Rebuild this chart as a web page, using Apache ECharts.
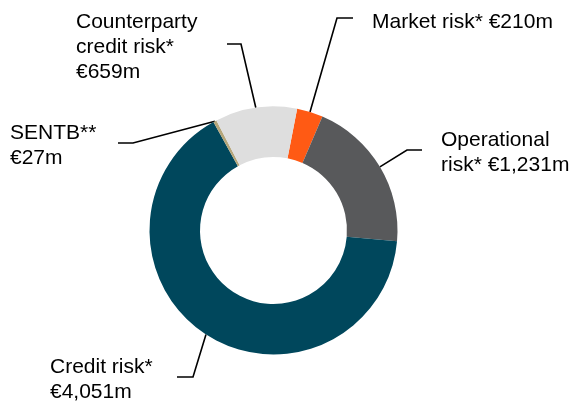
<!DOCTYPE html>
<html>
<head>
<meta charset="utf-8">
<script src="https://cdn.jsdelivr.net/npm/echarts@6/dist/echarts.min.js"></script>
<style>
  html, body { margin: 0; padding: 0; background: #fff; }
  #chart { width: 572px; height: 405px; }
</style>
</head>
<body>
<div id="chart"></div>
<script>
// Capital requirement by risk type, in € millions (clockwise from the top)
const categories = ['Market risk*', 'Operational\nrisk*', 'Credit risk*', 'SENTB**', 'Counterparty\ncredit risk*'];
const values = [210, 1231, 4051, 27, 659];
// Separator placed between a category name and its amount in the label
const separators = [' ', ' ', '\n', '\n', '\n'];
const colors = ['#FF5A14', '#58595B', '#00475C', '#B5A67A', '#DEDEDE'];

// Label anchor (top-left) and the elbow of each leader line
const labelSpots = [
  { x: 372, y: 10,  elbow: [337, 18],  end: [353, 18] },
  { x: 441, y: 128, elbow: [407, 150], end: [422, 150] },
  { x: 50,  y: 355, elbow: [193, 377], end: [177, 377] },
  { x: 10,  y: 121, elbow: [133, 143], end: [118, 143] },
  { x: 76,  y: 10,  elbow: [241, 44],  end: [227, 44] }
];

const fmt = v => '€' + v.toLocaleString('en-US') + 'm';

const chart = echarts.init(document.getElementById('chart'), null, { renderer: 'canvas' });
chart.setOption({
  animation: false,
  series: [{
    type: 'pie',
    center: [273.5, 230.5],
    radius: [73.5, 124],
    startAngle: 79,
    clockwise: true,
    avoidLabelOverlap: false,
    data: categories.map((name, i) => ({
      name: name,
      value: values[i],
      itemStyle: { color: colors[i] }
    })),
    label: {
      show: true,
      formatter: p => p.name + separators[p.dataIndex] + fmt(p.value),
      fontFamily: 'Liberation Sans, Arial, sans-serif',
      fontSize: 21,
      lineHeight: 25,
      color: '#000'
    },
    labelLine: {
      show: true,
      lineStyle: { color: '#000', width: 1.6 }
    },
    labelLayout: function (params) {
      const s = labelSpots[params.dataIndex];
      const start = params.labelLinePoints ? params.labelLinePoints[0] : s.elbow;
      return {
        x: s.x,
        y: s.y,
        align: 'left',
        verticalAlign: 'top',
        labelLinePoints: [start, s.elbow, s.end]
      };
    },
    emphasis: { disabled: true }
  }]
});
</script>
</body>
</html>
